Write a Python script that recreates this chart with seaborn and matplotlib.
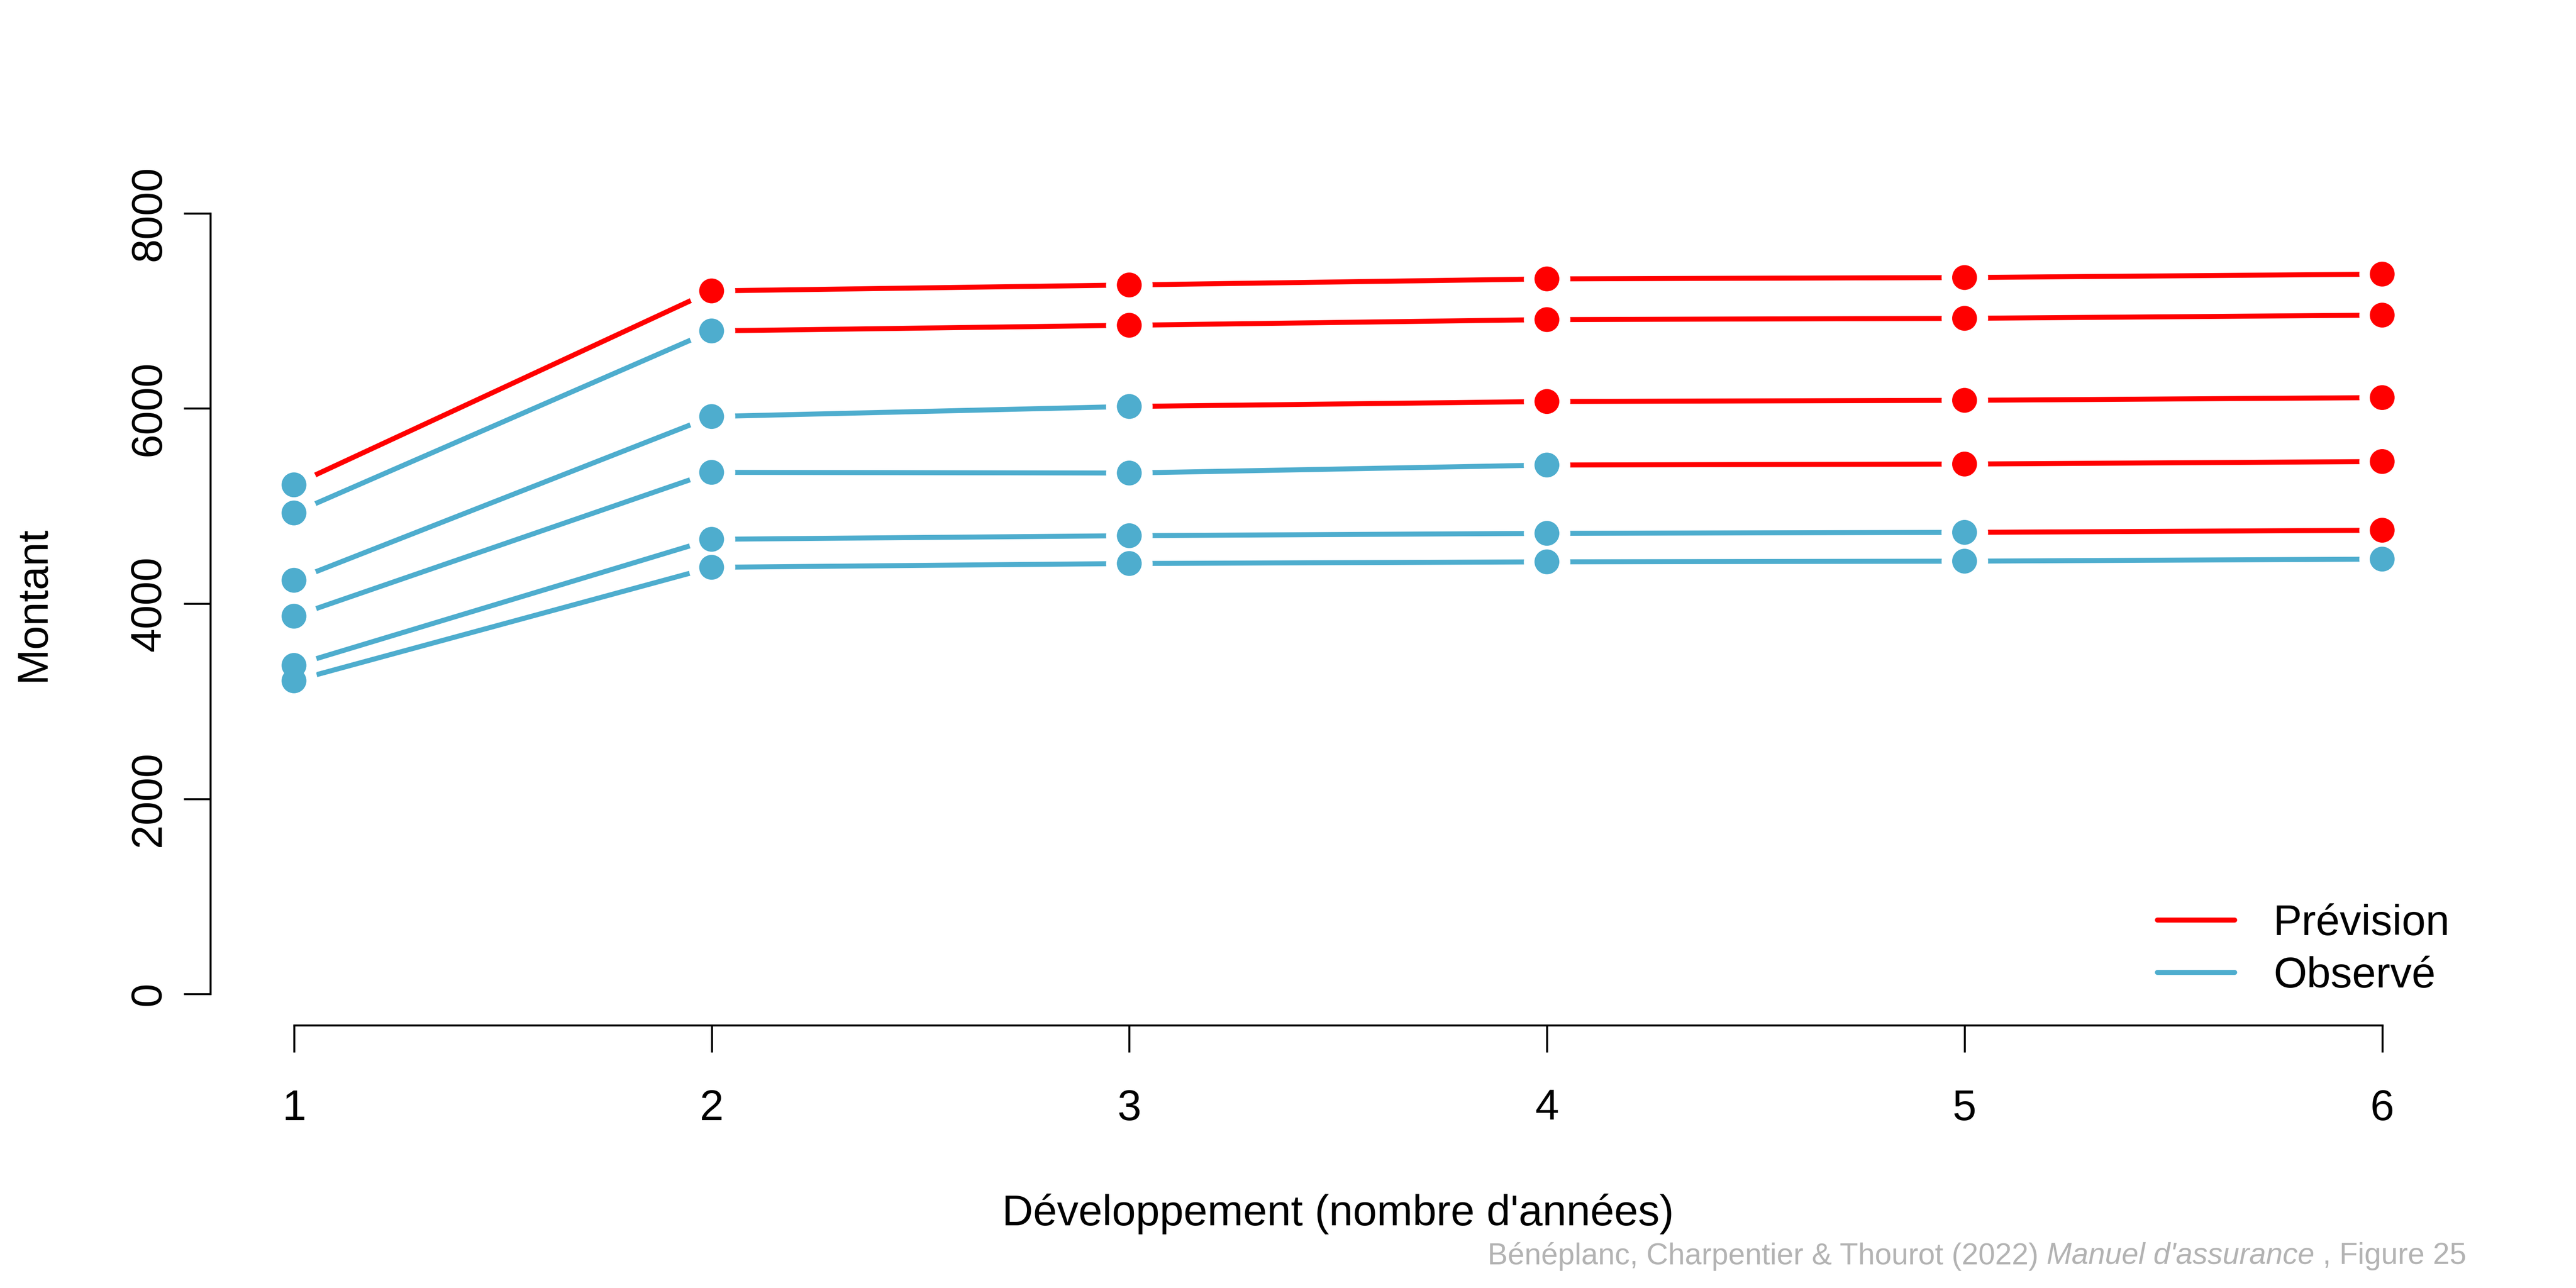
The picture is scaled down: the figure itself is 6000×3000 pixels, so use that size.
#!/usr/bin/env python3
"""
Triangle de développement : montants observés et prévisions (chain ladder)
"""
import matplotlib
matplotlib.use("Agg")
import matplotlib.pyplot as plt
from matplotlib.lines import Line2D
import seaborn as sns
import pandas as pd

dev_years = [1, 2, 3, 4, 5, 6]
y_ticks = [0, 2000, 4000, 6000, 8000]

# montants observés, une liste par année de survenance
observed = [
    [3209, 4372, 4411, 4428, 4435, 4456],
    [3367, 4659, 4696, 4720, 4730],
    [3871, 5345, 5338, 5420],
    [4239, 5917, 6020],
    [4929, 6794],
    [5217],
]
# prévisions (partie inférieure du triangle)
forecast = [
    [],
    [4752],
    [5430, 5456],
    [6071, 6083, 6111],
    [6852, 6910, 6923, 6956],
    [7204, 7265, 7327, 7341, 7376],
]

BLUE = "#4EADCE"
RED = "#FF0000"
palette = {"Observé": BLUE, "Prévision": RED}

# points et segments
points, segments = [], []
for i, (obs, prev) in enumerate(zip(observed, forecast)):
    n = len(obs)
    for j, v in enumerate(obs):
        points.append(dict(dev=dev_years[j], montant=v, statut="Observé"))
        if n > 1:
            segments.append(dict(seg=f"{i}o", dev=dev_years[j], montant=v, statut="Observé"))
    for j, v in enumerate(prev):
        points.append(dict(dev=dev_years[n + j], montant=v, statut="Prévision"))
    if prev:
        segments.append(dict(seg=f"{i}p", dev=dev_years[n - 1], montant=obs[-1], statut="Prévision"))
        for j, v in enumerate(prev):
            segments.append(dict(seg=f"{i}p", dev=dev_years[n + j], montant=v, statut="Prévision"))
pts = pd.DataFrame(points)
segs = pd.DataFrame(segments)

sns.set_style("white")
plt.rcParams["font.family"] = ["Liberation Sans", "DejaVu Sans"]
plt.rcParams["text.color"] = "black"
plt.rcParams["axes.labelcolor"] = "black"

fig = plt.figure(figsize=(20, 10), dpi=300)
ax = fig.add_axes([0.0817, 0.204, 0.8755, 0.6547])

# lignes avec un masque blanc autour de chaque point (style type="b")
sns.lineplot(data=segs, x="dev", y="montant", hue="statut", units="seg",
             estimator=None, sort=False, palette=palette, legend=False,
             lw=2.8, marker="o", markersize=26, markerfacecolor="white",
             markeredgewidth=0, solid_capstyle="round", ax=ax)
sns.scatterplot(data=pts, x="dev", y="montant", hue="statut", palette=palette,
                s=13.9 ** 2, linewidth=0, legend=False, zorder=3, ax=ax)

ax.set_xlim(0.8, 6.2)
ax.set_ylim(-320, 8320)
ax.set_xticks(dev_years)
ax.set_xticklabels([str(d) for d in dev_years])
ax.set_yticks(y_ticks)
ax.set_yticklabels([str(t) for t in y_ticks], rotation=90, va="center")
for s in ["top", "right"]:
    ax.spines[s].set_visible(False)
for s in ["left", "bottom"]:
    ax.spines[s].set_color("black")
    ax.spines[s].set_linewidth(1.1)
ax.spines["left"].set_bounds(0, 8000)
ax.spines["bottom"].set_bounds(1, 6)
ax.tick_params(axis="both", length=15, width=1.1, labelsize=24, colors="black",
               labelcolor="black", left=True, bottom=True)
ax.tick_params(axis="x", pad=20.5)
ax.tick_params(axis="y", pad=8)

ax.set_xlabel("Développement (nombre d'années)", fontsize=24, va="center", color="black")
ax.set_ylabel("Montant", fontsize=24, va="center", color="black")
ax.xaxis.set_label_coords(0.5, -0.2236)
ax.yaxis.set_label_coords(-0.0786, 0.5)

handles = [Line2D([], [], color=RED, lw=2.8, solid_capstyle="round"),
           Line2D([], [], color=BLUE, lw=2.8, solid_capstyle="round")]
ax.legend(handles, ["Prévision", "Observé"], loc="upper left", frameon=False,
          fontsize=24, handlelength=1.8, handletextpad=0.9, labelspacing=0.28,
          borderpad=0, borderaxespad=0,
          bbox_to_anchor=(5025 / 6000, 1 - 2105 / 3000),
          bbox_transform=fig.transFigure)

# légende de source, partie centrale en italique
fig.canvas.draw()
r = fig.canvas.get_renderer()
grey = "#B3B3B3"
fs = 16.8
x_right = 5745 / 6000
y_cap = 1 - 2926 / 3000
space = 0.278 * fs * 300 / 72 / 6000
t3 = fig.text(x_right, y_cap, ", Figure 25", ha="right", va="center", fontsize=fs, color=grey)
x3 = t3.get_window_extent(r).x0 / 6000 - space
t2 = fig.text(x3, y_cap, "Manuel d'assurance", ha="right", va="center", fontsize=fs,
              color=grey, style="italic")
x2 = t2.get_window_extent(r).x0 / 6000 - space
fig.text(x2, y_cap, "Bénéplanc, Charpentier & Thourot (2022)", ha="right", va="center",
         fontsize=fs, color=grey)

fig.savefig("out.png", dpi=300, facecolor="white")
